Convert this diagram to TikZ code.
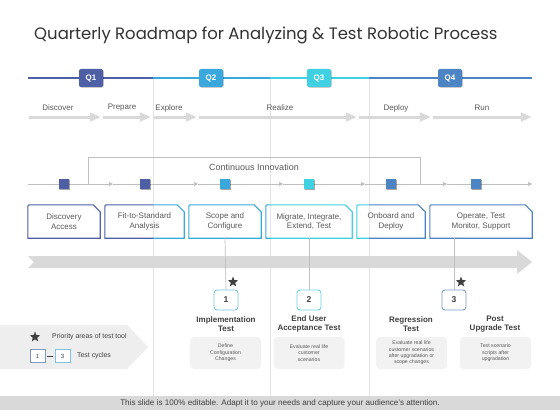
\documentclass[tikz,border=0pt]{standalone}
\usepackage{fontspec}
\setmainfont{Liberation Sans}
\newfontfamily\titlefont{Poppins}
\usetikzlibrary{arrows.meta,shapes.geometric,shadows,calc}
\definecolor{qone}{HTML}{4E5FA6}
\definecolor{qtwo}{HTML}{3AA8DD}
\definecolor{qthree}{HTML}{3FD0E2}
\definecolor{qfour}{HTML}{4D84C4}
\definecolor{agray}{HTML}{D9D9D9}
\definecolor{lgray}{HTML}{F2F2F2}
\definecolor{leggray}{HTML}{EEEEEE}
\definecolor{tgray}{HTML}{595959}
\definecolor{dgray}{HTML}{404040}
\definecolor{sepgray}{HTML}{E4E4E4}
\definecolor{linegray}{HTML}{BFBFBF}
\definecolor{nbone}{HTML}{7CC4E0}
\definecolor{nbtwo}{HTML}{6ED6DF}
\definecolor{nbthree}{HTML}{7E9CC6}
\newcommand\pboxdraw[2]{\draw[#2, line width=1.1pt] (#1.south west) -- ($(#1.north west)+(0,4)$) .. controls (#1.north west) .. ($(#1.north west)+(4,0)$) -- ($(#1.north east)+(-7,0)$) -- ($(#1.north east)+(0,7)$) -- (#1.south east) -- cycle;}
\newcommand\pboxnode[4]{\node[btext, minimum width={#3-#2}] (#1) at ({(#2+#3)/2},221.5) {#4};}
\begin{document}
\begin{tikzpicture}[x=1pt,y=-1pt,
  qbox/.style={rounded corners=2pt, minimum width=24pt, minimum height=18pt, inner sep=0, text=white, font=\bfseries\fontsize{8}{9}\selectfont, drop shadow={shadow xshift=0.6pt, shadow yshift=-0.6pt, opacity=0.3, fill=black}},
  phase/.style={text=tgray, font=\fontsize{8}{9}\selectfont, inner sep=0},
  parrow/.style={draw=agray, line width=3pt, -{Triangle[length=11pt,width=8.5pt]}},
  tline/.style={draw=linegray, line width=0.7pt, -{Triangle[length=4pt,width=4pt]}},
  plain/.style={draw=linegray, line width=0.7pt},
  sq/.style={minimum size=10.5pt, inner sep=0, drop shadow={shadow xshift=0.8pt, shadow yshift=-0.8pt, opacity=0.35, fill=black}},
  btext/.style={text=tgray, font=\fontsize{8}{9.5}\selectfont, align=center, minimum height=33pt, inner sep=0},
  nbox/.style={draw, line width=0.9pt, rounded corners=3pt, fill=white, minimum width=24pt, minimum height=20pt, inner sep=0, text=dgray, font=\bfseries\fontsize{8.5}{9}\selectfont},
  ttl/.style={text=dgray, font=\bfseries\fontsize{8}{9.3}\selectfont, align=center, inner sep=0},
  gbox/.style={fill=lgray, rounded corners=4pt, minimum height=32pt, minimum width=71pt, inner sep=0, text=tgray, font=\fontsize{5.2}{6.4}\selectfont, align=center},
  starn/.style={star, star points=5, star point ratio=2.4, fill=dgray, minimum size=11pt, inner sep=0},
  legtext/.style={text=dgray, font=\fontsize{6.9}{7.5}\selectfont, inner sep=0, anchor=west},
  lbox/.style={draw, line width=0.8pt, fill=white, minimum width=15pt, minimum height=13pt, inner sep=0, text=dgray, font=\fontsize{6}{7}\selectfont}
]
\useasboundingbox (0,0) rectangle (560,420);
\fill[white] (0,0) rectangle (560,420);

% title
\node[anchor=west, inner sep=0, text=black!80, font=\titlefont\fontsize{16.5}{18}\selectfont] (title) at (34,35) {Quarterly Roadmap for Analyzing \& Test Robotic Process};

% vertical separators
\draw[sepgray, line width=0.8pt] (153,78) -- (153,396);
\draw[sepgray, line width=0.8pt] (270,78) -- (270,396);
\draw[sepgray, line width=0.8pt] (369,78) -- (369,396);

% quarter line
\draw[qone, line width=1.2pt] (28,78) -- (153,78);
\draw[qtwo, line width=1.2pt] (153,78) -- (270,78);
\draw[qthree, line width=1.2pt] (270,78) -- (369,78);
\draw[qfour, line width=1.2pt] (369,78) -- (532,78);
\node[qbox, fill=qone] (q1) at (91,78) {Q1};
\node[qbox, fill=qtwo] (q2) at (211,78) {Q2};
\node[qbox, fill=qthree] (q3) at (319,78) {Q3};
\node[qbox, fill=qfour] (q4) at (450,78) {Q4};

% phases
\node[phase] (ph1) at (58,108) {Discover};
\node[phase] (ph2) at (122,108) {Prepare};
\node[phase] (ph3) at (169,108) {Explore};
\node[phase] (ph4) at (280,108) {Realize};
\node[phase] (ph5) at (396,108) {Deploy};
\node[phase] (ph6) at (482,108) {Run};
\draw[parrow] (29,117) -- (101,117);
\draw[parrow] (103,117) -- (151,117);
\draw[parrow] (154,117) -- (197,117);
\draw[parrow] (199,117) -- (357,117);
\draw[parrow] (359,117) -- (431,117);
\draw[parrow] (433,117) -- (532,117);

% continuous innovation
\coordinate (cia) at (88,184);
\coordinate (cib) at (420,184);
\draw[plain] (cia) -- (88,157) -- (420,157) -- (cib);
\node[text=tgray, font=\fontsize{9}{10}\selectfont, inner sep=0] (ci) at (254,167) {Continuous Innovation};

% timeline
\coordinate (t0) at (28,184);
\coordinate (t1) at (113,184);
\coordinate (t2) at (198,184);
\coordinate (t3) at (283,184);
\coordinate (t4) at (365,184);
\coordinate (t5) at (447,184);
\coordinate (t6) at (532,184);
\draw[tline] (t0) -- (t1);
\draw[tline] (t1) -- (t2);
\draw[tline] (t2) -- (t3);
\draw[tline] (t3) -- (t4);
\draw[tline] (t4) -- (t5);
\draw[tline] (t5) -- (t6);
\node[sq, fill=qone] (s1) at (64,184) {};
\node[sq, fill=qone] (s2) at (145,184) {};
\node[sq, fill=qtwo] (s3) at (225,184) {};
\node[sq, fill=qthree] (s4) at (309,184) {};
\node[sq, fill=qfour] (s5) at (391,184) {};
\node[sq, fill=qfour] (s6) at (476,184) {};

% phase boxes
\pboxnode{b1}{28}{100}{Discovery\\Access}
\pboxnode{b2}{105}{184}{Fit-to-Standard\\Analysis}
\pboxnode{b3}{189}{261}{Scope and\\Configure}
\pboxnode{b4}{266}{352}{Migrate, Integrate,\\Extend, Test}
\pboxnode{b5}{357}{425}{Onboard and\\Deploy}
\pboxnode{b6}{430}{532}{Operate, Test\\Monitor, Support}
\pboxdraw{b1}{qone}
\begin{scope}\clip (0,0) rectangle (153,420); \pboxdraw{b2}{qone} \end{scope}
\begin{scope}\clip (153,0) rectangle (560,420); \pboxdraw{b2}{qtwo} \end{scope}
\pboxdraw{b3}{qtwo}
\begin{scope}\clip (0,0) rectangle (270,420); \pboxdraw{b4}{qtwo} \end{scope}
\begin{scope}\clip (270,0) rectangle (560,420); \pboxdraw{b4}{qthree} \end{scope}
\begin{scope}\clip (0,0) rectangle (369,420); \pboxdraw{b5}{qthree} \end{scope}
\begin{scope}\clip (369,0) rectangle (560,420); \pboxdraw{b5}{qfour} \end{scope}
\pboxdraw{b6}{qfour}

% big gray arrow
\fill[agray] (28,256) -- (517,256) -- (517,250) -- (532,262) -- (517,274) -- (517,268) -- (28,268) -- (34,262) -- cycle;

% test cycle boxes
\node[nbox, draw=nbone] (n1) at (226,300) {1};
\node[nbox, draw=nbtwo] (n2) at (309,300) {2};
\node[nbox, draw=nbthree] (n3) at (454,300) {3};
\draw[plain] (b3.south) -- (n1.north);
\draw[plain] (b4.south) -- (n2.north);
\draw[plain] (n3.north |- b6.south) -- (n3.north);
\node[starn] (st1) at (233,282) {};
\node[starn] (st3) at (461,282) {};

\node[ttl] (tt1) at (226,324) {Implementation\\Test};
\node[ttl] (tt2) at (309,324) {End User\\Acceptance Test};
\node[ttl] (tt3) at (411,324) {Regression\\Test};
\node[ttl] (tt4) at (495,324) {Post\\Upgrade Test};

\node[gbox] (g1) at (225.5,353) {Define\\Configuration\\Changes};
\node[gbox] (g2) at (309,353) {Evaluate real life\\customer\\scenarios};
\node[gbox] (g3) at (411.5,353) {Evaluate real life\\customer scenarios\\after upgradation or\\scope changes};
\node[gbox] (g4) at (495.5,353) {Test scenario\\scripts after\\upgradation};

% legend
\fill[leggray] (0,325) -- (127,325) -- (148,347) -- (127,369) -- (0,369) -- cycle;
\node[starn] (ls) at (35,337) {};
\node[legtext] (lt1) at (52,337) {Priority areas of test tool};
\node[lbox, draw=nbthree] (l1) at (37.5,356) {1};
\node[lbox, draw=nbone] (l3) at (62.5,356) {3};
\draw[dgray, line width=0.6pt, shorten <=1.5pt, shorten >=1.5pt] (l1) -- (l3);
\node[legtext] (lt2) at (77,356) {Test cycles};

% footer
\fill[agray] (0,396) rectangle (560,410);
\node[text=dgray, font=\fontsize{8.1}{9}\selectfont, inner sep=0] (foot) at (280,403) {This slide is 100\% editable. Adapt it to your needs and capture your audience's attention.};
\end{tikzpicture}
\end{document}
